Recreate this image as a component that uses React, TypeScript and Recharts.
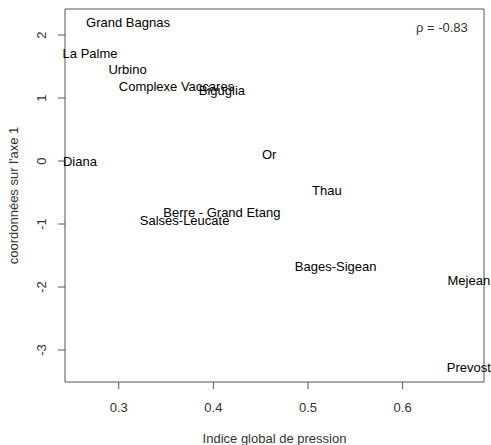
import React from "react";
import { ScatterChart, Scatter, XAxis, YAxis, ReferenceArea, Label } from "recharts";

const names = [
  "Grand Bagnas", "La Palme", "Urbino", "Complexe Vaccares", "Biguglia", "Diana", "Or",
  "Thau", "Berre - Grand Etang", "Salses-Leucate", "Bages-Sigean", "Mejean", "Prevost",
];
const pressure = [0.3098, 0.2697, 0.3093, 0.361, 0.409, 0.259, 0.459, 0.520, 0.409, 0.3696, 0.5292, 0.670, 0.670];
const axis1 = [2.20, 1.71, 1.456, 1.18, 1.116, 0.0, 0.106, -0.476, -0.82, -0.952, -1.667, -1.889, -3.28];

const xTicks = [0.3, 0.4, 0.5, 0.6];
const yTicks = [-3, -2, -1, 0, 1, 2];
const xDomain = [0.2432, 0.686];
const yDomain = [-3.508, 2.413];

const annotation = [{ x: 0.6415, y: 2.127, name: "\u03c1 = -0.83" }];

const points = names.map((name, i) => ({ name, x: pressure[i], y: axis1[i] }));

const FONT = "'Liberation Sans', Arial, Helvetica, sans-serif";

const LabelShape = (props: any) => {
  const { cx, cy, payload } = props;
  return (
    <text x={cx} y={cy} textAnchor="middle" dominantBaseline="central" fontSize={13} fontFamily={FONT} fill="#000">
      {payload.name}
    </text>
  );
};

const AnnotShape = (props: any) => {
  const { cx, cy, payload } = props;
  return (
    <text x={cx} y={cy} textAnchor="middle" dominantBaseline="central" fontSize={13} fontFamily={FONT} fill="#333">
      {payload.name}
    </text>
  );
};

const XTick = (props: any) => {
  const { x, y, payload } = props;
  return (
    <text x={x} y={y} textAnchor="middle" dominantBaseline="central" fontSize={13} fontFamily={FONT} fill="#333">
      {payload.value}
    </text>
  );
};

const YTick = (props: any) => {
  const { x, y, payload } = props;
  return (
    <text x={x} y={y} transform={`rotate(-90 ${x} ${y})`} textAnchor="middle" dominantBaseline="central" fontSize={13} fontFamily={FONT} fill="#333">
      {payload.value}
    </text>
  );
};

export default function App() {
  return (
    <div style={{ position: "absolute", left: 0, top: 0, background: "#fff" }}>
      <ScatterChart width={491} height={445} margin={{ top: 9, right: 7, left: 0, bottom: 0 }}>
        <XAxis
          type="number"
          dataKey="x"
          domain={xDomain}
          ticks={xTicks}
          height={63}
          tickSize={7}
          tickMargin={18}
          tick={<XTick />}
          axisLine={false}
          tickLine={{ stroke: "#555" }}
        >
          <Label
            content={() => (
              <text x={274.5} y={438} textAnchor="middle" dominantBaseline="central" fontSize={13} fontFamily={FONT} fill="#333">
                Indice global de pression
              </text>
            )}
          />
        </XAxis>
        <YAxis
          type="number"
          dataKey="y"
          domain={yDomain}
          ticks={yTicks}
          width={65}
          tickSize={7}
          tickMargin={16}
          tick={<YTick />}
          axisLine={false}
          tickLine={{ stroke: "#555" }}
        >
          <Label
            content={() => (
              <text x={13} y={195.5} transform="rotate(-90 13 195.5)" textAnchor="middle" dominantBaseline="central" fontSize={13} fontFamily={FONT} fill="#333">
                coordonnées sur l'axe 1
              </text>
            )}
          />
        </YAxis>
        <ReferenceArea
          x1={xDomain[0]}
          x2={xDomain[1]}
          y1={yDomain[0]}
          y2={yDomain[1]}
          fill="none"
          fillOpacity={0}
          stroke="#555"
          strokeWidth={1}
          ifOverflow="visible"
        />
        <Scatter data={points} shape={LabelShape} isAnimationActive={false} />
        <Scatter data={annotation} shape={AnnotShape} isAnimationActive={false} />
      </ScatterChart>
    </div>
  );
}
